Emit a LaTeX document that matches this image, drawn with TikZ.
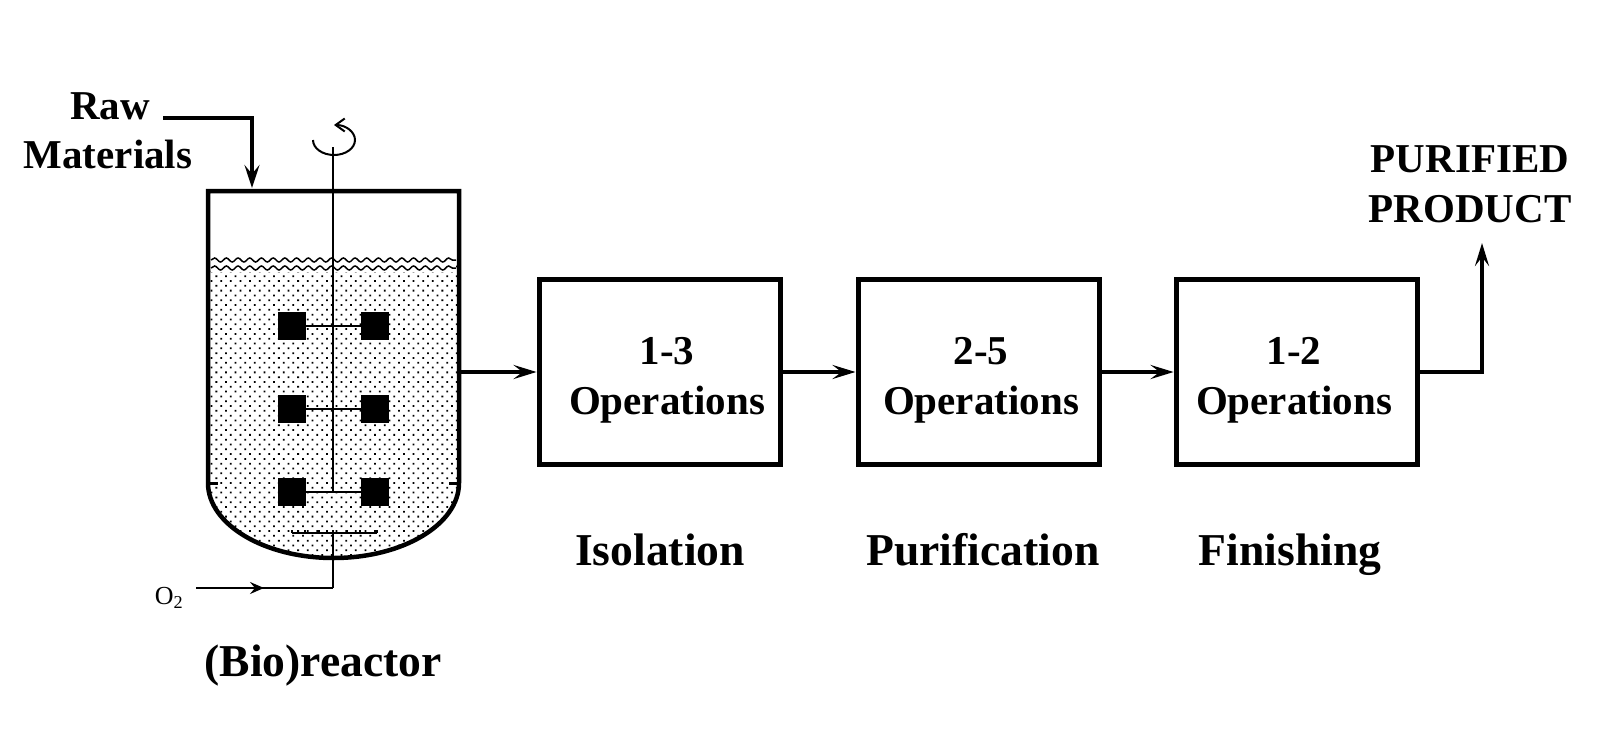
\documentclass[tikz,border=0pt]{standalone}
\usepackage{fontspec}
\setmainfont{Liberation Serif}
\usetikzlibrary{arrows.meta,patterns.meta,decorations.pathmorphing}
\tikzset{
  opbox/.style={draw,line width=5pt,minimum width=241pt,minimum height=185pt,inner sep=0pt},
  optext/.style={align=center,font=\fontsize{41}{50}\selectfont\bfseries},
  steplabel/.style={font=\fontsize{45.6}{50}\selectfont\bfseries},
  bigtext/.style={align=center,font=\fontsize{41}{50}\selectfont\bfseries},
  heavy/.style={line width=4pt,-{Stealth[length=23pt,width=15pt,inset=9pt]}},
  medium/.style={line width=3.6pt,-{Stealth[length=23pt,width=14pt,inset=9pt]}},
  blade/.style={fill=black,minimum size=28pt,inner sep=0pt},
  wave/.style={decorate,decoration={snake,amplitude=2pt,segment length=11.7pt},line width=1.5pt}
}
\begin{document}
\begin{tikzpicture}[x=1pt,y=-1pt]
\useasboundingbox (0,0) rectangle (1600,733);

\path[pattern={Dots[distance=6.8pt,angle=45,radius=1.25pt]}] (208,265) -- (208,483) arc[x radius=125.5,y radius=75,start angle=180,end angle=0] -- (459,265) -- cycle;

\coordinate (vtop) at (252,188);
\coordinate (vout) at (459,372);
\draw[line width=4.5pt,line join=miter] (208,483) -- (208,191) -- (459,191) -- (459,483) arc[x radius=125.5,y radius=75,start angle=0,end angle=180];
\draw[line width=3pt] (208,483) -- (218,483);
\draw[line width=3pt] (449,483) -- (459,483);

\path[fill=white] (211,257) rectangle (456,272);
\draw[wave] (211,260) -- (456,260);
\draw[wave] (211,268) -- (456,268);

\coordinate (shafttop) at (333,147);
\coordinate (shaftend) at (333,492);
\draw[line width=2.2pt] (shafttop) -- (shaftend);
\foreach \y/\n in {326/a,409/b,492/c}{
  \node (l\n) at (292,\y)[blade] {};
  \node (r\n) at (375,\y)[blade] {};
  \draw[line width=2.2pt] (l\n) -- (r\n);
}
\draw[line width=2pt,-{Straight Barb[length=9pt,width=13pt]}] (313,140) arc[x radius=21,y radius=15,start angle=180,end angle=-90];

\coordinate (spl) at (292,533);
\coordinate (spr) at (377,533);
\coordinate (spc) at (333,533);
\coordinate (ocorner) at (333,588);
\coordinate (ostart) at (196,588);
\draw[line width=2pt] (spl) -- (spr);
\foreach \x in {292,305,319,333,347,360,377}
  \draw[line width=1.2pt] (\x,533) -- (\x,530);
\draw[line width=2.2pt] (spc) -- (ocorner);
\draw[line width=2.2pt] (ostart) -- (ocorner);
\draw[line width=2.2pt,-{Stealth[length=14pt,width=12pt,inset=5pt]}] (ostart) -- (264,588);

\node (o2) at (169,598) {\fontsize{26}{30}\selectfont O\textsubscript{2}};
\node (raw) at (110,106)[bigtext] {Raw};
\node (mat) at (108,154)[bigtext] {Materials};
\node (reactor) at (323,666)[steplabel] {(Bio)reactor};

\coordinate (rawstart) at (163,118);
\coordinate (rawcorner) at (252,118);
\draw[heavy] (rawstart) -- (rawcorner) -- (vtop);

\node (b1) at (659.6,372)[opbox] {};
\node (b2) at (978.5,372)[opbox] {};
\node (b3) at (1296.6,372)[opbox] {};
\node (t1) at (667,380)[optext] {1-3\\Operations};
\node (t2) at (981,380)[optext] {2-5\\Operations};
\node (t3) at (1294,380)[optext] {1-2\\Operations};

\node (s1) at (660,550)[steplabel] {Isolation};
\node (s2) at (983,550)[steplabel] {Purification};
\node (s3) at (1290,555)[steplabel] {Finishing};

\draw[medium] (vout) -- (b1);
\draw[medium] (b1) -- (b2);
\draw[medium] (b2) -- (b3);

\node (prod) at (1470,184)[bigtext] {PURIFIED\\PRODUCT};
\coordinate (pcorner) at (1482,372);
\coordinate (ptip) at (1482,243);
\draw[medium] (b3.east) -- (pcorner) -- (ptip);

\end{tikzpicture}
\end{document}
